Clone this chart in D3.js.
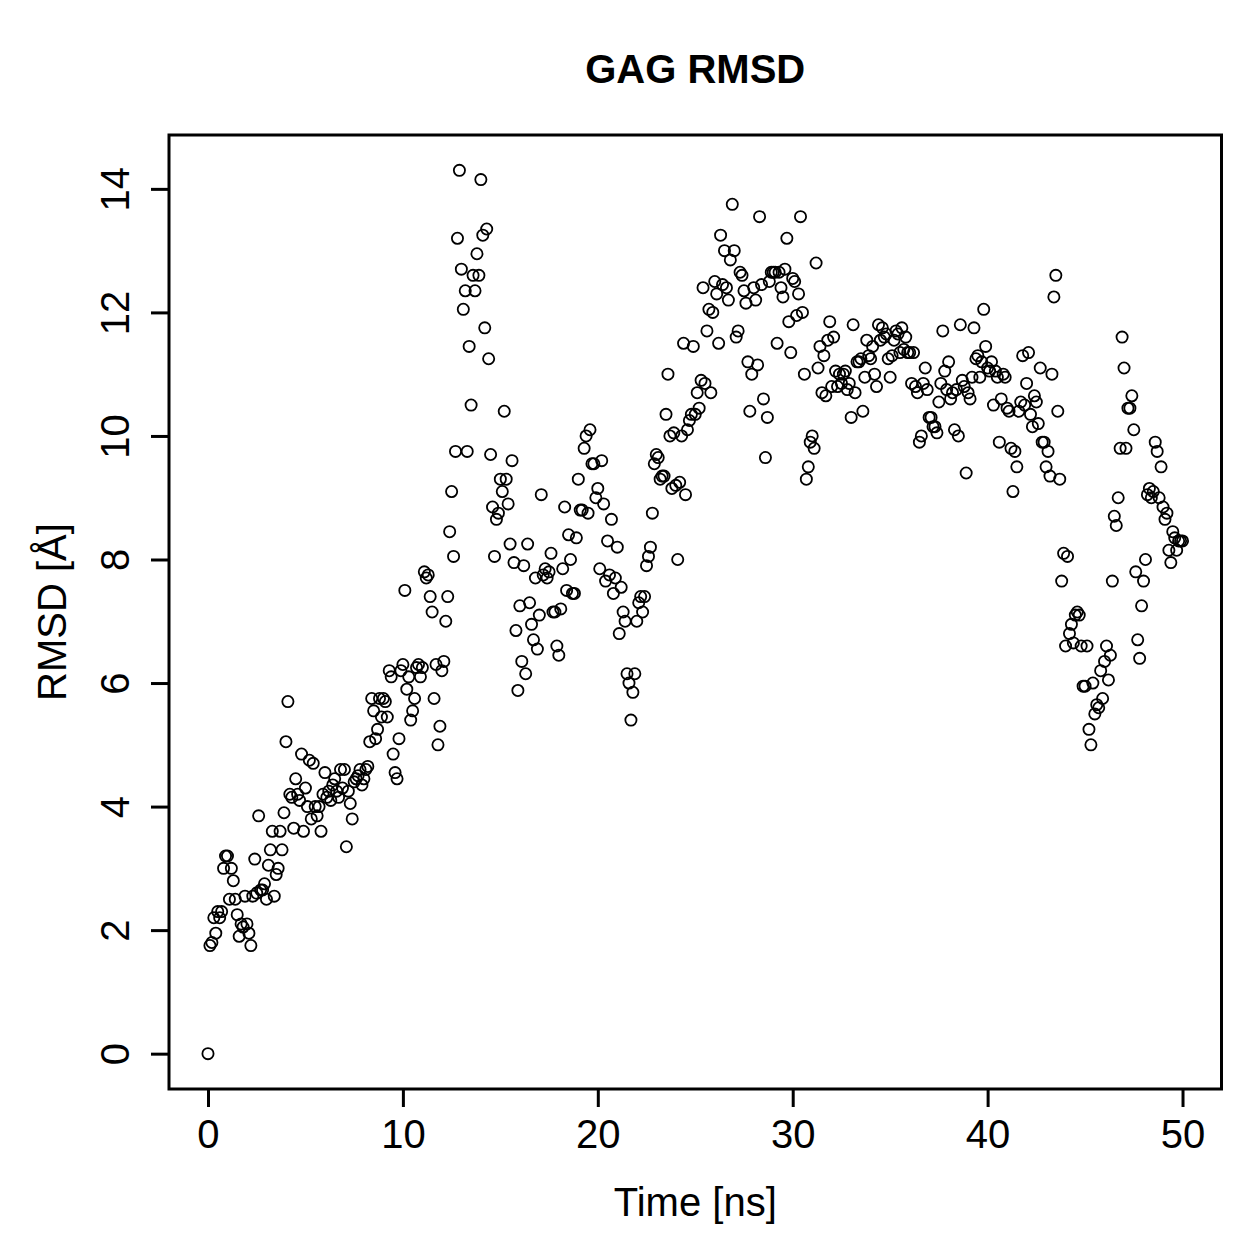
<!DOCTYPE html>
<html>
<head>
<meta charset="utf-8">
<script src="https://cdn.jsdelivr.net/npm/d3@7"></script>
<style>
  body { margin: 0; background: #fff; }
  text { font-family: "Liberation Sans", Arial, Helvetica, sans-serif; fill: #000; }
</style>
</head>
<body>
<div id="chart"></div>
<script>
// RMSD values, one row per ns (sampled every 0.1 ns)
var rmsd = [
  0, 1.75, 1.8, 2.2, 1.95, 2.3, 2.2, 2.3, 3.0, 3.2,
  3.2, 2.5, 3.0, 2.8, 2.5, 2.25, 1.9, 2.1, 2.05, 2.55,
  2.1, 1.95, 1.75, 2.55, 3.15, 2.6, 3.85, 2.65, 2.65, 2.75,
  2.5, 3.05, 3.3, 3.6, 2.55, 2.9, 3.0, 3.6, 3.3, 3.9,
  5.05, 5.7, 4.2, 4.15, 3.65, 4.45, 4.2, 4.1, 4.85, 3.6,
  4.3, 4.0, 4.75, 3.8, 4.7, 4.0, 3.85, 4.0, 3.6, 4.2,
  4.55, 4.15, 4.25, 4.1, 4.35, 4.45, 4.25, 4.15, 4.6, 4.3,
  4.6, 3.35, 4.25, 4.05, 3.8, 4.4, 4.45, 4.5, 4.6, 4.35,
  4.45, 4.6, 4.65, 5.05, 5.75, 5.55, 5.1, 5.25, 5.75, 5.45,
  5.75, 5.7, 5.45, 6.2, 6.1, 4.85, 4.55, 4.45, 5.1, 6.2,
  6.3, 7.5, 5.9, 6.1, 5.4, 5.55, 5.75, 6.25, 6.3, 6.1,
  6.25, 7.8, 7.7, 7.75, 7.4, 7.15, 5.75, 6.3, 5.0, 5.3,
  6.2, 6.35, 7.0, 7.4, 8.45, 9.1, 8.05, 9.75, 13.2, 14.3,
  12.7, 12.05, 12.35, 9.75, 11.45, 10.5, 12.6, 12.35, 12.95, 12.6,
  14.15, 13.25, 11.75, 13.35, 11.25, 9.7, 8.85, 8.05, 8.65, 8.75,
  9.3, 9.1, 10.4, 9.3, 8.9, 8.25, 9.6, 7.95, 6.85, 5.88,
  7.25, 6.35, 7.9, 6.15, 8.25, 7.3, 6.95, 6.7, 7.7, 6.55,
  7.1, 9.05, 7.75, 7.85, 7.7, 7.8, 8.1, 7.15, 7.15, 6.6,
  6.45, 7.2, 7.85, 8.85, 7.5, 8.4, 8.0, 7.45, 7.45, 8.35,
  9.3, 8.8, 8.8, 9.8, 10.0, 8.75, 10.1, 9.55, 9.55, 9.0,
  9.15, 7.85, 9.6, 8.9, 7.65, 8.3, 7.75, 8.65, 7.45, 7.7,
  8.2, 6.8, 7.55, 7.15, 7.0, 6.15, 6.0, 5.4, 5.85, 6.15,
  7.0, 7.3, 7.4, 7.15, 7.4, 7.9, 8.05, 8.2, 8.75, 9.55,
  9.7, 9.65, 9.3, 9.35, 9.35, 10.35, 11.0, 10.0, 9.15, 10.05,
  9.2, 8.0, 9.25, 10.0, 11.5, 9.05, 10.1, 10.25, 10.35, 11.45,
  10.35, 10.7, 10.45, 10.9, 12.4, 10.85, 11.7, 12.05, 10.7, 12.0,
  12.5, 12.3, 11.5, 13.25, 12.45, 13.0, 12.4, 12.2, 12.85, 13.75,
  13.0, 11.6, 11.7, 12.65, 12.6, 12.35, 12.15, 11.2, 10.4, 11.0,
  12.4, 12.2, 11.15, 13.55, 12.45, 10.6, 9.65, 10.3, 12.5, 12.65,
  12.65, 12.65, 11.5, 12.65, 12.4, 12.25, 12.7, 13.2, 11.85, 11.35,
  12.55, 12.5, 11.95, 12.3, 13.55, 12.0, 11.0, 9.3, 9.5, 9.9,
  10.0, 9.8, 12.8, 11.1, 11.45, 10.7, 11.3, 10.65, 11.55, 11.85,
  10.8, 11.6, 11.05, 10.8, 11.0, 10.85, 11.0, 11.05, 10.75, 10.85,
  10.3, 11.8, 10.7, 11.2, 11.2, 11.25, 10.4, 10.95, 11.55, 11.3,
  11.25, 11.45, 11.0, 10.8, 11.8, 11.55, 11.75, 11.6, 11.65, 11.25,
  10.95, 11.3, 11.55, 11.7, 11.65, 11.35, 11.75, 11.4, 11.6, 11.35,
  11.35, 10.85, 11.35, 10.8, 10.7, 9.9, 10.0, 10.85, 11.1, 10.75,
  10.3, 10.3, 10.15, 10.15, 10.05, 10.55, 10.85, 11.7, 11.05, 10.75,
  11.2, 10.6, 10.7, 10.1, 10.75, 10.0, 11.8, 10.9, 10.8, 9.4,
  10.7, 10.6, 10.95, 11.75, 11.25, 11.3, 10.95, 11.2, 12.05, 11.45,
  11.1, 11.05, 11.2, 10.5, 11.05, 10.95, 9.9, 10.6, 11.0, 10.95,
  10.45, 10.4, 9.8, 9.1, 9.75, 9.5, 10.4, 10.55, 11.3, 10.5,
  10.85, 11.35, 10.35, 10.15, 10.65, 10.55, 10.2, 11.1, 9.9, 9.9,
  9.5, 9.75, 9.35, 11.0, 12.25, 12.6, 10.4, 9.3, 7.65, 8.1,
  6.6, 8.05, 6.8, 6.95, 6.65, 7.1, 7.15, 7.1, 6.6, 5.95,
  5.95, 6.6, 5.25, 5.0, 6.0, 5.5, 5.65, 5.6, 6.2, 5.75,
  6.35, 6.6, 6.05, 6.45, 7.65, 8.7, 8.55, 9.0, 9.8, 11.6,
  11.1, 9.8, 10.45, 10.45, 10.65, 10.1, 7.8, 6.7, 6.4, 7.25,
  7.65, 8.0, 9.05, 9.15, 9.0, 9.1, 9.9, 9.75, 9.0, 9.5,
  8.85, 8.65, 8.75, 8.15, 7.95, 8.45, 8.35, 8.15, 8.3, 8.3,
  8.3
];
var timeStep = 0.1; // ns between frames
var xTicks = [0, 10, 20, 30, 40, 50];
var yTicks = [0, 2, 4, 6, 8, 10, 12, 14];
var title = "GAG RMSD";
var xLabel = "Time [ns]";
var yLabel = "RMSD [Å]";

var points = rmsd.map(function (v, i) {
  return { time: +(i * timeStep).toFixed(1), rmsd: v };
});

var svgWidth = 1259;
var svgHeight = 1259;

// plot box (R style)
var box = { left: 169, right: 1221.5, top: 135, bottom: 1089 };

var svg = d3.select("#chart")
  .append("svg")
  .attr("width", svgWidth)
  .attr("height", svgHeight);

svg.append("rect")
  .attr("width", svgWidth)
  .attr("height", svgHeight)
  .attr("fill", "#fff");

// R pads the data range by 4% on each side
function padded(ext) {
  var p = (ext[1] - ext[0]) * 0.04;
  return [ext[0] - p, ext[1] + p];
}

var xScale = d3.scaleLinear()
  .domain(padded(d3.extent(points, d => d.time)))
  .range([box.left, box.right]);

var yScale = d3.scaleLinear()
  .domain(padded(d3.extent(points, d => d.rmsd)))
  .range([box.bottom, box.top]);

// x axis
var bottomAxis = d3.axisBottom(xScale)
  .tickValues(xTicks)
  .tickSize(18)
  .tickPadding(13);

var gx = svg.append("g")
  .attr("transform", `translate(0, ${box.bottom})`)
  .call(bottomAxis);
gx.select(".domain").remove();
gx.selectAll(".tick line").attr("stroke", "#000").attr("stroke-width", 3);
gx.selectAll(".tick text")
  .style("font-size", "40px")
  .style("font-family", "'Liberation Sans', Arial, sans-serif")
  .attr("fill", "#000");

// y axis, labels parallel to the axis
var leftAxis = d3.axisLeft(yScale)
  .tickValues(yTicks)
  .tickSize(18);

var gy = svg.append("g")
  .attr("transform", `translate(${box.left}, 0)`)
  .call(leftAxis);
gy.select(".domain").remove();
gy.selectAll(".tick line").attr("stroke", "#000").attr("stroke-width", 3);
gy.selectAll(".tick text")
  .attr("x", 0)
  .attr("y", -40)
  .attr("dy", null)
  .attr("transform", "rotate(-90)")
  .attr("text-anchor", "middle")
  .style("font-size", "40px")
  .style("font-family", "'Liberation Sans', Arial, sans-serif")
  .attr("fill", "#000");

// points
svg.append("g")
  .selectAll("circle")
  .data(points)
  .enter()
  .append("circle")
  .attr("cx", d => xScale(d.time))
  .attr("cy", d => yScale(d.rmsd))
  .attr("r", 5.6)
  .attr("fill", "none")
  .attr("stroke", "#000")
  .attr("stroke-width", 1.8);

// box
svg.append("rect")
  .attr("x", box.left)
  .attr("y", box.top)
  .attr("width", box.right - box.left)
  .attr("height", box.bottom - box.top)
  .attr("fill", "none")
  .attr("stroke", "#000")
  .attr("stroke-width", 3);

var midX = (box.left + box.right) / 2;

// title
svg.append("text")
  .attr("x", midX)
  .attr("y", 83)
  .attr("text-anchor", "middle")
  .style("font-size", "40px")
  .style("font-weight", "bold")
  .text(title);

// axis labels
svg.append("text")
  .attr("x", midX)
  .attr("y", 1216)
  .attr("text-anchor", "middle")
  .style("font-size", "40px")
  .text(xLabel);

svg.append("text")
  .attr("transform", `translate(66, ${(box.top + box.bottom) / 2}) rotate(-90)`)
  .attr("text-anchor", "middle")
  .style("font-size", "40px")
  .text(yLabel);
</script>
</body>
</html>
